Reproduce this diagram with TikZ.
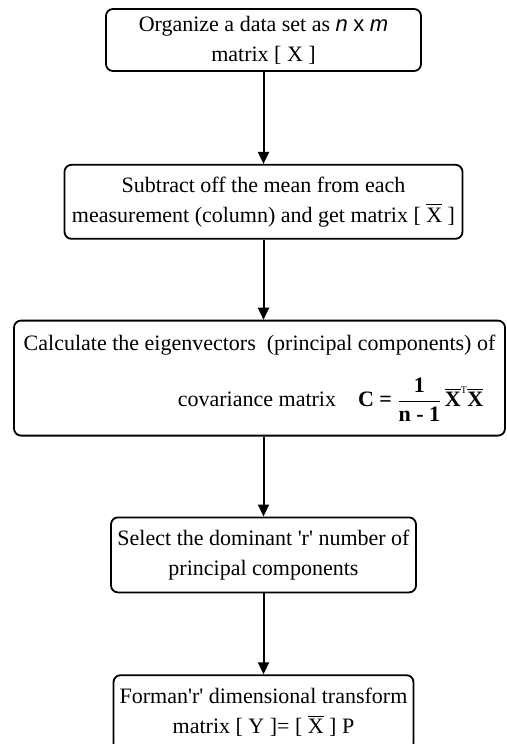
\documentclass[tikz,border=0pt]{standalone}
\usepackage{amsmath}
\usepackage{fontspec}
\setmainfont{Liberation Serif}
\newfontfamily\arialfont{Liberation Sans}
\usetikzlibrary{arrows.meta,positioning}

\newcommand{\xbar}{\ensuremath{\overline{\hbox{X}}}}

\begin{document}
\begin{tikzpicture}[x=1pt, y=1pt,
  stepbox/.style={draw, line width=1.8pt, rounded corners=7pt, align=center, inner sep=2pt, font=\fontsize{22}{30}\selectfont},
  arr/.style={-{Triangle[length=12pt,width=11pt]}, line width=2pt},
  node distance=80pt
]
  \useasboundingbox[fill=white] (0,0) rectangle (506,-744);

  \node[stepbox, minimum width=315pt, minimum height=62pt] (organize) at (263.5,-40)
    {Organize a data set as {\arialfont\itshape n} {\arialfont x} {\arialfont\itshape m}\\matrix [ X ]};
  \node[stepbox, minimum width=398pt, minimum height=74pt, below=92pt of organize] (subtract)
    {Subtract off the mean from each\\measurement (column) and get matrix [ \xbar\ ]};
  \node[stepbox, align=right, minimum width=491pt, minimum height=115pt, below=of subtract, xshift=-4pt] (eigen)
    {Calculate the eigenvectors\ \ (principal components) of\\[22pt]
     covariance matrix\quad \textbf{C = }$\displaystyle\frac{\hbox{\bfseries 1}}{\hbox{\bfseries n - 1}}\,
     \overline{\hbox{\bfseries X}}^{\hbox{\fontsize{10}{10}\selectfont T}}\overline{\hbox{\bfseries X}}$\hspace*{12pt}};
  \node[stepbox, minimum width=305pt, minimum height=75pt, below=of subtract |- eigen.south] (select)
    {Select the dominant \textquotesingle r\textquotesingle\ number of\\principal components};
  \node[stepbox, minimum width=300pt, minimum height=75pt, below=81pt of select] (form)
    {Forman\textquotesingle r\textquotesingle\ dimensional transform\\matrix [ Y ]= [ \xbar\ ] P};

  \draw[arr] (organize) -- (subtract);
  \draw[arr] (subtract) -- (subtract |- eigen.north);
  \draw[arr] (subtract |- eigen.south) -- (select);
  \draw[arr] (select) -- (form);
\end{tikzpicture}
\end{document}
